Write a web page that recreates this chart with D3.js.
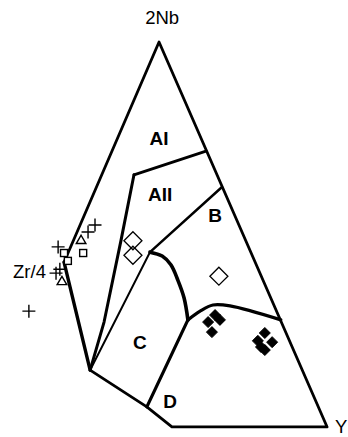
<!DOCTYPE html>
<html>
<head>
<meta charset="utf-8">
<script src="https://cdn.jsdelivr.net/npm/d3@7"></script>
<style>
  html, body { margin: 0; padding: 0; background: #fff; }
  svg { display: block; }
  text { font-family: "Liberation Sans", Arial, sans-serif; fill: #000; }
</style>
</head>
<body>
<svg id="chart" width="348" height="437"></svg>
<script>
// Diagram frame: x and y both run 0..100 across the drawing area.
const outerUpper   = [[18.4, 40.0], [45.7, 90.4], [94.0, 2.3], [49.4, 2.3], [42.2, 6.9], [25.9, 15.3]];
const outerLower   = [[25.9, 15.3], [18.4, 40.0]];
const lineAI_AII   = [[38.5, 60.0], [59.2, 65.4]];
const lineAII_left = [[38.5, 60.0], [34.8, 45.1], [29.9, 26.3], [25.9, 15.3]];
const lineC_left   = [[43.1, 42.3], [25.9, 15.3]];
const lineAII_B    = [[43.1, 42.3], [63.8, 57.2]];
const lineB_C      = [[43.1, 42.3], [46.6, 41.4], [49.1, 39.4], [51.1, 35.9], [52.9, 31.8], [54.0, 26.8]];
const lineB_D      = [[54.0, 26.8], [57.5, 28.8], [61.2, 30.2], [66.1, 30.0], [80.7, 26.8]];
const lineC_D      = [[54.0, 26.8], [42.2, 6.9]];

const fieldNames = ["AI", "AII", "B", "C", "D"];
const fieldPos   = [[45.7, 68.4], [46.0, 55.4], [61.8, 50.8], [40.2, 21.7], [48.9, 8.2]];

const apexNames  = ["2Nb", "Zr/4", "Y"];
const apexPos    = [[46.6, 96.1], [13.2, 37.8], [99.8, 2.5]];
const apexAnchor = ["middle", "end", "end"];

// Sample groups
const crossPts    = [[27.3, 48.5], [25.3, 46.9], [16.7, 43.5], [17.2, 38.4], [16.1, 37.5], [8.3, 28.8]];
const squarePts   = [[23.9, 42.1], [18.4, 42.1], [19.5, 40.3]];
const trianglePts = [[23.3, 44.9], [17.8, 35.5]];
const diamondPts  = [[38.2, 44.9], [38.2, 41.6], [62.9, 36.8]];
const solidPts    = [[59.8, 26.3], [61.8, 27.9], [63.2, 26.8], [60.9, 24.0],
                     [76.1, 23.8], [74.1, 22.0], [78.2, 21.7], [76.1, 19.9], [75.0, 20.6]];

const W = 348, H = 437;
const x = d3.scaleLinear().domain([0, 100]).range([0, W]);
const y = d3.scaleLinear().domain([0, 100]).range([H, 0]);

const svg = d3.select("#chart");
const line = d3.line().x(d => x(d[0])).y(d => y(d[1]));
const curve = d3.line().x(d => x(d[0])).y(d => y(d[1])).curve(d3.curveCatmullRom.alpha(0.5));

const g = svg.append("g").attr("fill", "none").attr("stroke", "#000")
  .attr("stroke-linejoin", "round").attr("stroke-linecap", "round");

g.append("path").attr("d", line(outerUpper)).attr("stroke-width", 2.8);
g.append("path").attr("d", line(outerLower)).attr("stroke-width", 3.4);
g.append("path").attr("d", line(lineAI_AII)).attr("stroke-width", 2.8);
g.append("path").attr("d", line(lineAII_left)).attr("stroke-width", 3);
g.append("path").attr("d", line(lineC_left)).attr("stroke-width", 2.1);
g.append("path").attr("d", line(lineAII_B)).attr("stroke-width", 2.5);
g.append("path").attr("d", curve(lineB_C)).attr("stroke-width", 3.6);
g.append("path").attr("d", curve(lineB_D)).attr("stroke-width", 3.2);
g.append("path").attr("d", line(lineC_D)).attr("stroke-width", 3.2);

// Field labels
svg.append("g").selectAll("text").data(fieldNames).join("text")
  .attr("x", (d, i) => x(fieldPos[i][0]))
  .attr("y", (d, i) => y(fieldPos[i][1]))
  .attr("text-anchor", "middle")
  .attr("dominant-baseline", "central")
  .attr("font-size", 19).attr("font-weight", "bold")
  .text(d => d);

// Apex labels
svg.append("g").selectAll("text").data(apexNames).join("text")
  .attr("x", (d, i) => x(apexPos[i][0]))
  .attr("y", (d, i) => y(apexPos[i][1]))
  .attr("text-anchor", (d, i) => apexAnchor[i])
  .attr("dominant-baseline", "central")
  .attr("font-size", 18.5)
  .text(d => d);

const pts = svg.append("g").attr("stroke", "#000");

// crosses
pts.append("g").selectAll("path").data(crossPts).join("path")
  .attr("d", d => { const cx = x(d[0]), cy = y(d[1]), r = 6.5;
    return `M${cx - r},${cy}H${cx + r}M${cx},${cy - r}V${cy + r}`; })
  .attr("stroke-width", 1.4).attr("fill", "none");

// squares
pts.append("g").selectAll("rect").data(squarePts).join("rect")
  .attr("x", d => x(d[0]) - 3.5).attr("y", d => y(d[1]) - 3.5)
  .attr("width", 7).attr("height", 7)
  .attr("stroke-width", 1.4).attr("fill", "#fff");

// triangles
const tri = d3.symbol().type(d3.symbolTriangle).size(40);
pts.append("g").selectAll("path").data(trianglePts).join("path")
  .attr("transform", d => `translate(${x(d[0])},${y(d[1])})`)
  .attr("d", tri()).attr("stroke-width", 1.4).attr("fill", "#fff");

// open diamonds
pts.append("g").selectAll("path").data(diamondPts).join("path")
  .attr("d", d => { const cx = x(d[0]), cy = y(d[1]), r = 9;
    return `M${cx},${cy - r}L${cx + r},${cy}L${cx},${cy + r}L${cx - r},${cy}Z`; })
  .attr("stroke-width", 1.3).attr("fill", "none");

// filled diamonds
pts.append("g").selectAll("path").data(solidPts).join("path")
  .attr("d", d => { const cx = x(d[0]), cy = y(d[1]), r = 5.5;
    return `M${cx},${cy - r}L${cx + r},${cy}L${cx},${cy + r}L${cx - r},${cy}Z`; })
  .attr("stroke-width", 1).attr("fill", "#000");
</script>
</body>
</html>
